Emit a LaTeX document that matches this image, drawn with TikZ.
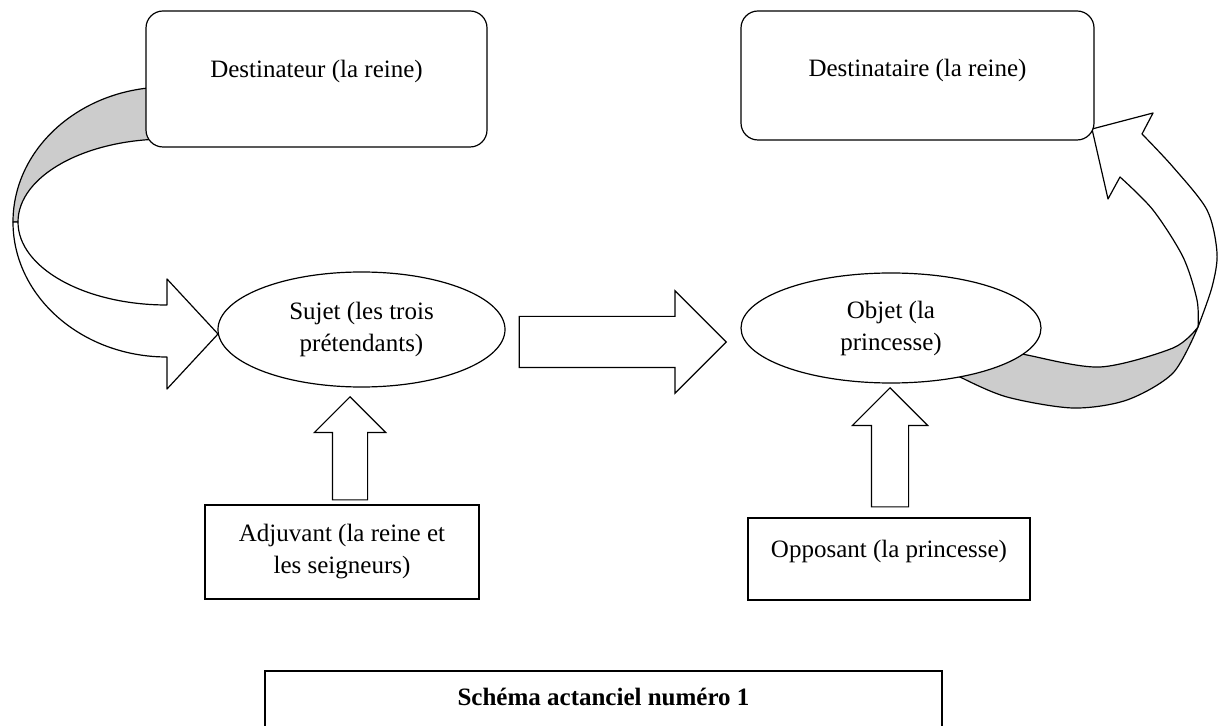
\documentclass[tikz,border=0pt]{standalone}
\usepackage{fontspec}
\setmainfont{Liberation Serif}
\usepackage{tikz}
\usetikzlibrary{shapes.geometric, shapes.arrows, positioning}
\definecolor{ruban}{gray}{0.8}

\tikzset{
    boite/.style={shape=rectangle, draw=black, fill=white, line width=0.6pt, align=center, font=\fontsize{12.5}{16}\selectfont},
    bulle/.style={shape=ellipse, draw=black, fill=white, line width=0.6pt, inner sep=0pt, align=center, font=\fontsize{12.5}{16}\selectfont},
    fleche/.style={single arrow, draw=black, fill=white, line width=0.6pt, inner xsep=0pt, single arrow tip angle=90},
    bande/.style={draw=black, line width=0.6pt, line join=round}
}

\begin{document}
\begin{tikzpicture}[x=0.5pt, y=-0.5pt]
    \useasboundingbox (0,0) rectangle (1218,726);

    \filldraw[bande, fill=ruban] (167,87) arc[start angle=270, end angle=180, x radius=154, y radius=135]
        -- (18,222) arc[start angle=180, end angle=270, x radius=149, y radius=83] -- cycle;
    \filldraw[bande, fill=white] (13,222) arc[start angle=180, end angle=90, x radius=154, y radius=135]
        -- (167,389) -- (218,334) -- (167,279) -- (167,305)
        arc[start angle=90, end angle=180, x radius=149, y radius=83] -- cycle;

    \filldraw[bande, fill=ruban] plot[smooth] coordinates {(935,362) (960,377) (1007,397) (1073,408) (1127,400) (1173,373) (1198,327)}
        -- plot[smooth] coordinates {(1198,327) (1173,348) (1100,367) (1027,355) (1000,348)} -- cycle;
    \filldraw[bande, fill=white] plot[smooth] coordinates {(1198,327) (1212,287) (1217,253) (1207,210) (1173,167) (1142,134)}
        -- (1153,113) -- (1092,129) -- (1108,199) -- (1120,177)
        -- plot[smooth] coordinates {(1120,177) (1153,210) (1183,257) (1197,300) (1198,327)} -- cycle;

    \node[boite, rounded corners=8.5pt, minimum width=170.5pt, minimum height=68pt, text depth=10pt] (destinateur) at (316.5,79) {Destinateur (la reine)};
    \node[boite, rounded corners=8.5pt, minimum width=176.5pt, minimum height=64.5pt, text depth=7.5pt] (destinataire) at (917.5,75.5) {Destinataire (la reine)};

    \node[bulle, minimum width=143.5pt, minimum height=57.5pt] (sujet) at (361.5,329.5) {Sujet (les trois\\prétendants)};
    \node[bulle, minimum width=150pt, minimum height=55pt] (objet) at (891,328) {Objet (la\\princesse)};

    \node[fleche, minimum height=103.5pt, inner ysep=12.5pt, single arrow head extend=12.75pt, anchor=tip] (quete) at (727,342) {};
    \node[fleche, rotate=90, minimum height=51.5pt, inner ysep=8.5pt, single arrow head extend=9pt, anchor=tip] (aide) at (350,396) {};
    \node[fleche, rotate=90, minimum height=59.5pt, inner ysep=9pt, single arrow head extend=9.5pt, anchor=tip] (obstacle) at (890,387) {};

    \node[boite, minimum width=137pt, minimum height=47pt] (adjuvant) at (342,552) {Adjuvant (la reine et\\les seigneurs)};
    \node[boite, minimum width=141pt, minimum height=41pt, text depth=10pt] (opposant) at (889,559) {Opposant (la princesse)};

    \node[boite, font=\fontsize{12.5}{16}\selectfont\bfseries, minimum width=338.5pt, minimum height=50pt, text depth=24pt] (legende) at (603.5,721) {Schéma actanciel numéro 1};
\end{tikzpicture}
\end{document}
